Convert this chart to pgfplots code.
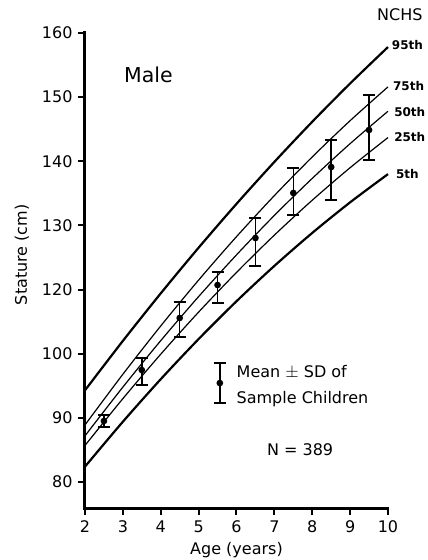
\documentclass[border=0pt]{standalone}
\usepackage{fontspec}
\setmainfont{DejaVu Sans}
\usepackage{pgfplots}
\pgfplotsset{compat=1.18}

\begin{document}
\fontsize{16}{19}\selectfont
\begin{tikzpicture}[x=1pt,y=1pt]
\begin{axis}[
  at={(0,0)}, anchor=south west,
  scale only axis,
  width=303pt, height=475pt,
  xmin=2, xmax=10,
  ymin=75.95, ymax=150,
  axis x line*=bottom,
  axis y line*=left,
  every outer x axis line/.style={/tikz/line width=3pt, /tikz/black, /tikz/line cap=rect},
  every outer y axis line/.style={/tikz/line width=3pt, /tikz/black, /tikz/line cap=rect},
  major tick style={/tikz/line width=2pt, /tikz/black},
  tick align=outside,
  major tick length=7pt,
  xtick={2,3,...,10},
  ytick={80,90,...,150},
  % the printed labels skip 110
  yticklabels={80,90,100,120,130,140,150,160},
  /pgf/number format/assume math mode=true,
  tick label style={font=\fontsize{16}{19}\selectfont},
  xlabel={Age (years)},
  ylabel={Stature (cm)},
  label style={font=\fontsize{16}{19}\selectfont},
  xlabel style={at={(axis description cs:0.5,-0.0884)}, anchor=center},
  ylabel style={at={(axis description cs:-0.208,0.533)}, anchor=center},
  clip=false,
]
% NCHS percentiles: 95th, 75th, 50th, 25th, 5th
\addplot[black, line width=2.2pt, smooth] coordinates {
  (2,94.3)(3,102.0)(4,109.41)(5,116.53)(6,123.36)(7,129.9)(8,136.16)(9,142.13)(10,147.81)
};
\addplot[black, line width=1.2pt, smooth] coordinates {
  (2,88.9)(3,96.8)(4,104.33)(5,111.48)(6,118.25)(7,124.65)(8,130.68)(9,136.33)(10,141.6)
};
\addplot[black, line width=1.2pt, smooth] coordinates {
  (2,87.2)(3,94.8)(4,102.04)(5,108.91)(6,115.41)(7,121.56)(8,127.33)(9,132.75)(10,137.8)
};
\addplot[black, line width=1.2pt, smooth] coordinates {
  (2,85.7)(3,93.0)(4,99.93)(5,106.49)(6,112.67)(7,118.49)(8,123.93)(9,129.0)(10,133.7)
};
\addplot[black, line width=2.2pt, smooth] coordinates {
  (2,82.4)(3,89.4)(4,96.03)(5,102.29)(6,108.18)(7,113.69)(8,118.83)(9,123.6)(10,128.0)
};

% sample means +- SD
\addplot[black, line width=1.6pt, only marks, mark=*, mark size=2.5pt,
  error bars/.cd, y dir=both, y explicit, error mark=|,
  error bar style={/tikz/line width=1.6pt},
  error mark options={/tikz/line width=1.6pt, mark size=6pt}]
coordinates {
  (2.5,89.51) += (0,0.94) -= (0,0.94)
  (3.5,97.46) += (0,1.87) -= (0,2.34)
  (4.5,105.57) += (0,2.49) -= (0,2.96)
  (5.5,110.71) += (0,2.07) -= (0,2.76)
  (6.5,118.04) += (0,3.12) -= (0,4.37)
  (7.5,125.06) += (0,3.90) -= (0,3.43)
  (8.5,129.10) += (0,4.21) -= (0,5.14)
  (9.5,134.88) += (0,5.46) -= (0,4.68)
};

% key symbol
\addplot[black, line width=1.6pt, only marks, mark=*, mark size=2.5pt,
  error bars/.cd, y dir=both, y explicit, error mark=|,
  error bar style={/tikz/line width=1.6pt},
  error mark options={/tikz/line width=1.6pt, mark size=6pt}]
coordinates {(5.56,95.43) +- (0,3.12)};

\node[anchor=west, align=left, inner sep=0pt, font=\fontsize{16}{26}\selectfont]
  at (axis cs:6.0,94.9) {Mean $\pm$ SD of\\Sample Children};
\node[font=\fontsize{16}{19}\selectfont] at (axis cs:7.68,85.0) {N = 389};
\node[anchor=west, inner sep=0pt, font=\fontsize{20.5}{24}\selectfont] at (axis cs:3.03,143.5) {Male};
\node[anchor=west, inner sep=0pt, font=\fontsize{16}{19}\selectfont] at (axis cs:9.71,152.8) {NCHS};

\node[anchor=west, inner sep=0pt, font=\bfseries\fontsize{12}{14}\selectfont] at (axis cs:10.1,148.2) {95th};
\node[anchor=west, inner sep=0pt, font=\bfseries\fontsize{12}{14}\selectfont] at (axis cs:10.13,141.8) {75th};
\node[anchor=west, inner sep=0pt, font=\bfseries\fontsize{12}{14}\selectfont] at (axis cs:10.16,137.7) {50th};
\node[anchor=west, inner sep=0pt, font=\bfseries\fontsize{12}{14}\selectfont] at (axis cs:10.16,133.8) {25th};
\node[anchor=west, inner sep=0pt, font=\bfseries\fontsize{12}{14}\selectfont] at (axis cs:10.21,128.0) {5th};
\end{axis}
\pgfresetboundingbox
\path[use as bounding box] (-85,-52) rectangle (343,508);
\end{tikzpicture}
\end{document}
